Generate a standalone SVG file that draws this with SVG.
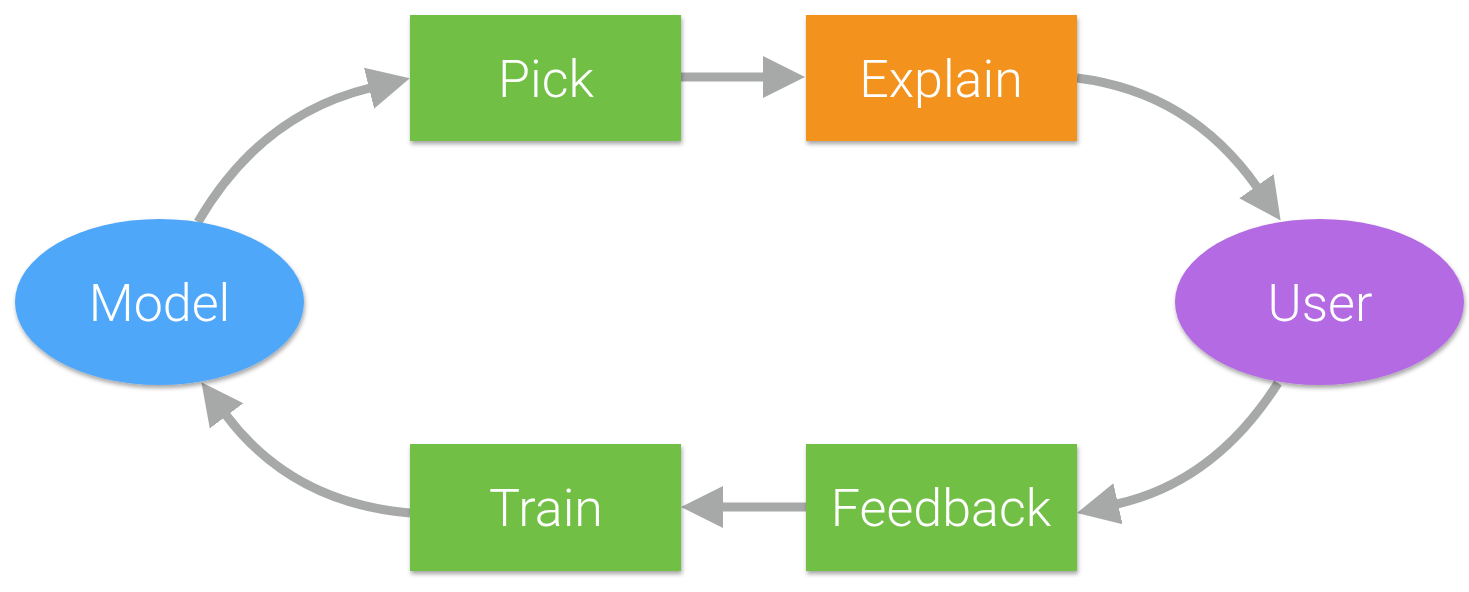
<svg xmlns="http://www.w3.org/2000/svg" width="1469" height="592" viewBox="0 0 1469 592">
<defs>
<filter id="sh" x="-10%" y="-10%" width="120%" height="130%">
<feDropShadow dx="1" dy="3" stdDeviation="2" flood-color="#000" flood-opacity="0.35"/>
</filter>
<marker id="ah" markerUnits="userSpaceOnUse" markerWidth="44" markerHeight="44" refX="1" refY="21" orient="auto" viewBox="0 0 44 42">
<path d="M0,0 L42,21 L0,42 z" fill="#A6A9A7"/>
</marker>
</defs>
<style>
.box{fill:#72BF44;filter:url(#sh)}
.lbl{font-family:Roboto,"Liberation Sans",sans-serif;font-weight:300;font-size:52px;fill:#fff;text-anchor:middle}
.conn{fill:none;stroke:#A6A9A7;stroke-width:9;marker-end:url(#ah)}
</style>
<rect width="1469" height="592" fill="#fff"/>
<g id="connectors">
<path class="conn" d="M198,222 Q260,115 370,88"/>
<path class="conn" d="M681,77 L764,77"/>
<path class="conn" d="M1077,78 Q1190,92 1257,187"/>
<path class="conn" d="M1278,383 Q1215,482 1117,504"/>
<path class="conn" d="M806,507 L722,507"/>
<path class="conn" d="M410,513 Q292,503 226,415"/>
</g>
<g id="pick"><rect class="box" x="410" y="15" width="271" height="126"/><text class="lbl" x="546" y="97">Pick</text></g>
<g id="explain"><rect class="box" x="806" y="15" width="271" height="126" style="fill:#F3921B"/><text class="lbl" x="941" y="97">Explain</text></g>
<g id="model"><ellipse cx="159.5" cy="302" rx="144.5" ry="83" fill="#50A7F9" filter="url(#sh)"/><text class="lbl" x="159.5" y="321">Model</text></g>
<g id="user"><ellipse cx="1319.5" cy="302" rx="144.5" ry="83" fill="#B36BE2" filter="url(#sh)"/><text class="lbl" x="1320" y="321">User</text></g>
<g id="train"><rect class="box" x="410" y="444" width="271" height="127"/><text class="lbl" x="546" y="526">Train</text></g>
<g id="feedback"><rect class="box" x="806" y="444" width="271" height="127"/><text class="lbl" x="941" y="526">Feedback</text></g>
</svg>
